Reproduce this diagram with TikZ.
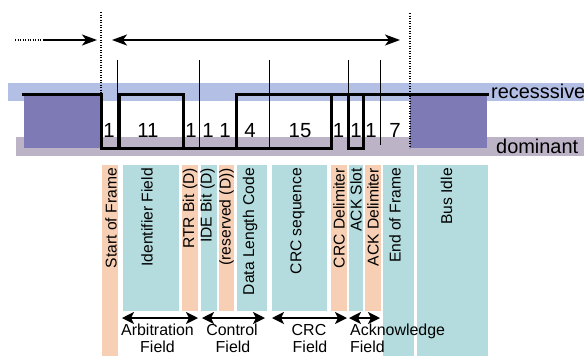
\documentclass[tikz,border=0pt]{standalone}
\usepackage{fontspec}
\setmainfont{Liberation Sans}
\usetikzlibrary{arrows.meta}

\definecolor{recband}{HTML}{B4BFE6}
\definecolor{domband}{HTML}{BCB3C7}
\definecolor{idlebox}{HTML}{7D7AB5}
\definecolor{peach}{HTML}{F7CFB4}
\definecolor{aqua}{HTML}{B4DCDE}

\tikzset{
  signal/.style={line width=3bp, line join=miter, line cap=rect},
  divider/.style={line width=1bp},
  dotline/.style={line width=1.8bp, dash pattern=on 1.3bp off 1.2bp},
  bigarrow/.style={line width=1.5bp, -{Stealth[length=15bp,width=11bp,inset=4bp]}},
  bigboth/.style={line width=1.5bp, {Stealth[length=15bp,width=11bp,inset=4bp]}-{Stealth[length=15bp,width=11bp,inset=4bp]}},
  fieldarrow/.style={line width=2bp, {Stealth[length=12bp,width=12bp,inset=3bp]}-{Stealth[length=12bp,width=12bp,inset=3bp]}},
  bitcount/.style={anchor=base, inner sep=0pt, font=\fontsize{20.5}{24}\selectfont},
  levelname/.style={anchor=base west, inner sep=0pt, font=\fontsize{20}{24}\selectfont},
  collabel/.style={rotate=90, anchor=east, inner sep=0pt, font=\fontsize{15.7}{18}\selectfont},
  grouplabel/.style={anchor=base, inner sep=0pt, font=\fontsize{16}{20}\selectfont},
}

\begin{document}
\begin{tikzpicture}[x=1bp, y=-1bp]
\useasboundingbox (0,0) rectangle (584,356);

% bus level bands
\fill[recband] (8,83) rectangle (584,101);
\fill[domband] (16,137) rectangle (584,156);

% idle bus before and after the frame
\fill[idlebox] (24,96) rectangle (101,148);
\fill[idlebox] (410,96) rectangle (487,148);

% field columns
\fill[peach] (102,165) rectangle (118,356);
\fill[aqua]  (123,165) rectangle (179,311);
\fill[peach] (182,165) rectangle (198,311);
\fill[aqua]  (201,165) rectangle (217,311);
\fill[peach] (219,165) rectangle (234,311);
\fill[aqua]  (237,165) rectangle (267,311);
\fill[aqua]  (272,165) rectangle (327,311);
\fill[peach] (331,165) rectangle (347,311);
\fill[aqua]  (349,165) rectangle (363,311);
\fill[peach] (365,165) rectangle (381,311);
\fill[aqua]  (383,165) rectangle (414,356);
\fill[aqua]  (417,165) rectangle (488,356);

% field boundaries
\foreach \xb/\yb in {117.5/148, 199/148, 269/148, 348/148, 380/145}
  \draw[divider] (\xb,60) -- (\xb,\yb);

% bit stream
\draw[signal] (23,94) -- (101,94) -- (101,148) -- (331,148) -- (331,94);
\draw[signal] (119,148) -- (119,94) -- (183,94) -- (183,148);
\draw[signal] (236,148) -- (236,94) -- (487,94);
\draw[signal] (348,94) -- (348,148) -- (363,148) -- (363,94);

% frame limits
\coordinate (sofTop) at (101,12);
\coordinate (sofBot) at (101,94);
\coordinate (eofTop) at (410,13);
\coordinate (eofBot) at (410,148);
\draw[dotline] (sofTop) -- (sofBot);
\draw[dotline] (eofTop) -- (eofBot);

% frame span arrows
\coordinate (idleA) at (15,40);
\coordinate (idleB) at (43,40);
\coordinate (idleTip) at (97,40);
\coordinate (frameL) at (112,40);
\coordinate (frameR) at (400,40);
\draw[dotline] (idleA) -- (idleB);
\draw[bigarrow] (idleB) -- (idleTip);
\draw[bigboth] (frameL) -- (frameR);

% bit counts
\node[bitcount] (n1)  at (109,137) {1};
\node[bitcount] (n2)  at (148,137) {11};
\node[bitcount] (n3)  at (191,137) {1};
\node[bitcount] (n4)  at (208,137) {1};
\node[bitcount] (n5)  at (225,137) {1};
\node[bitcount] (n6)  at (250,137) {4};
\node[bitcount] (n7)  at (300,137) {15};
\node[bitcount] (n8)  at (338.5,137) {1};
\node[bitcount] (n9)  at (356,137) {1};
\node[bitcount] (n10) at (371,137) {1};
\node[bitcount] (n11) at (395,137) {7};

% bus levels
\node[levelname] (rec) at (491,98) {recesssive};
\node[levelname] (dom) at (496,153) {dominant};

% field names
\node[collabel] (sof)  at (111,168) {Start of Frame};
\node[collabel] (idf)  at (147,168) {Identifier Field};
\node[collabel] (rtr)  at (190,168) {RTR Bit (D)};
\node[collabel] (ide)  at (207.5,168) {IDE Bit (D)};
\node[collabel] (res)  at (226.5,168) {(reserved (D))};
\node[collabel] (dlc)  at (250,168) {Data Length Code};
\node[collabel] (crc)  at (297.5,168) {CRC sequence};
\node[collabel] (crcd) at (339,168) {CRC Delimiter};
\node[collabel] (acks) at (356,168) {ACK Slot};
\node[collabel] (ackd) at (373,168) {ACK Delimiter};
\node[collabel] (eof)  at (395,168) {End of Frame};
\node[collabel] (idle) at (446.5,168) {Bus Idle};

% field groups
\coordinate (arbL) at (122,318);
\coordinate (arbR) at (198,318);
\coordinate (ctlL) at (202,318);
\coordinate (ctlR) at (265,318);
\coordinate (crcL) at (272,318);
\coordinate (crcR) at (347,318);
\coordinate (ackL) at (349,318);
\coordinate (ackR) at (380,318);
\draw[fieldarrow] (arbL) -- (arbR);
\draw[fieldarrow] (ctlL) -- (ctlR);
\draw[fieldarrow] (crcL) -- (crcR);
\draw[fieldarrow] (ackL) -- (ackR);

\node[grouplabel] (arb1) at (157.5,335.5) {Arbitration};
\node[grouplabel] (arb2) at (157.5,352) {Field};
\node[grouplabel] (ctl1) at (232,335.5) {Control};
\node[grouplabel] (ctl2) at (233,352) {Field};
\node[grouplabel] (crc1) at (309,335.5) {CRC};
\node[grouplabel] (crc2) at (310,352) {Field};
\node[grouplabel, anchor=base west] (ack1) at (350,335.5) {Acknowledge};
\node[grouplabel, anchor=base west] (ack2) at (350,352) {Field};
\end{tikzpicture}
\end{document}
